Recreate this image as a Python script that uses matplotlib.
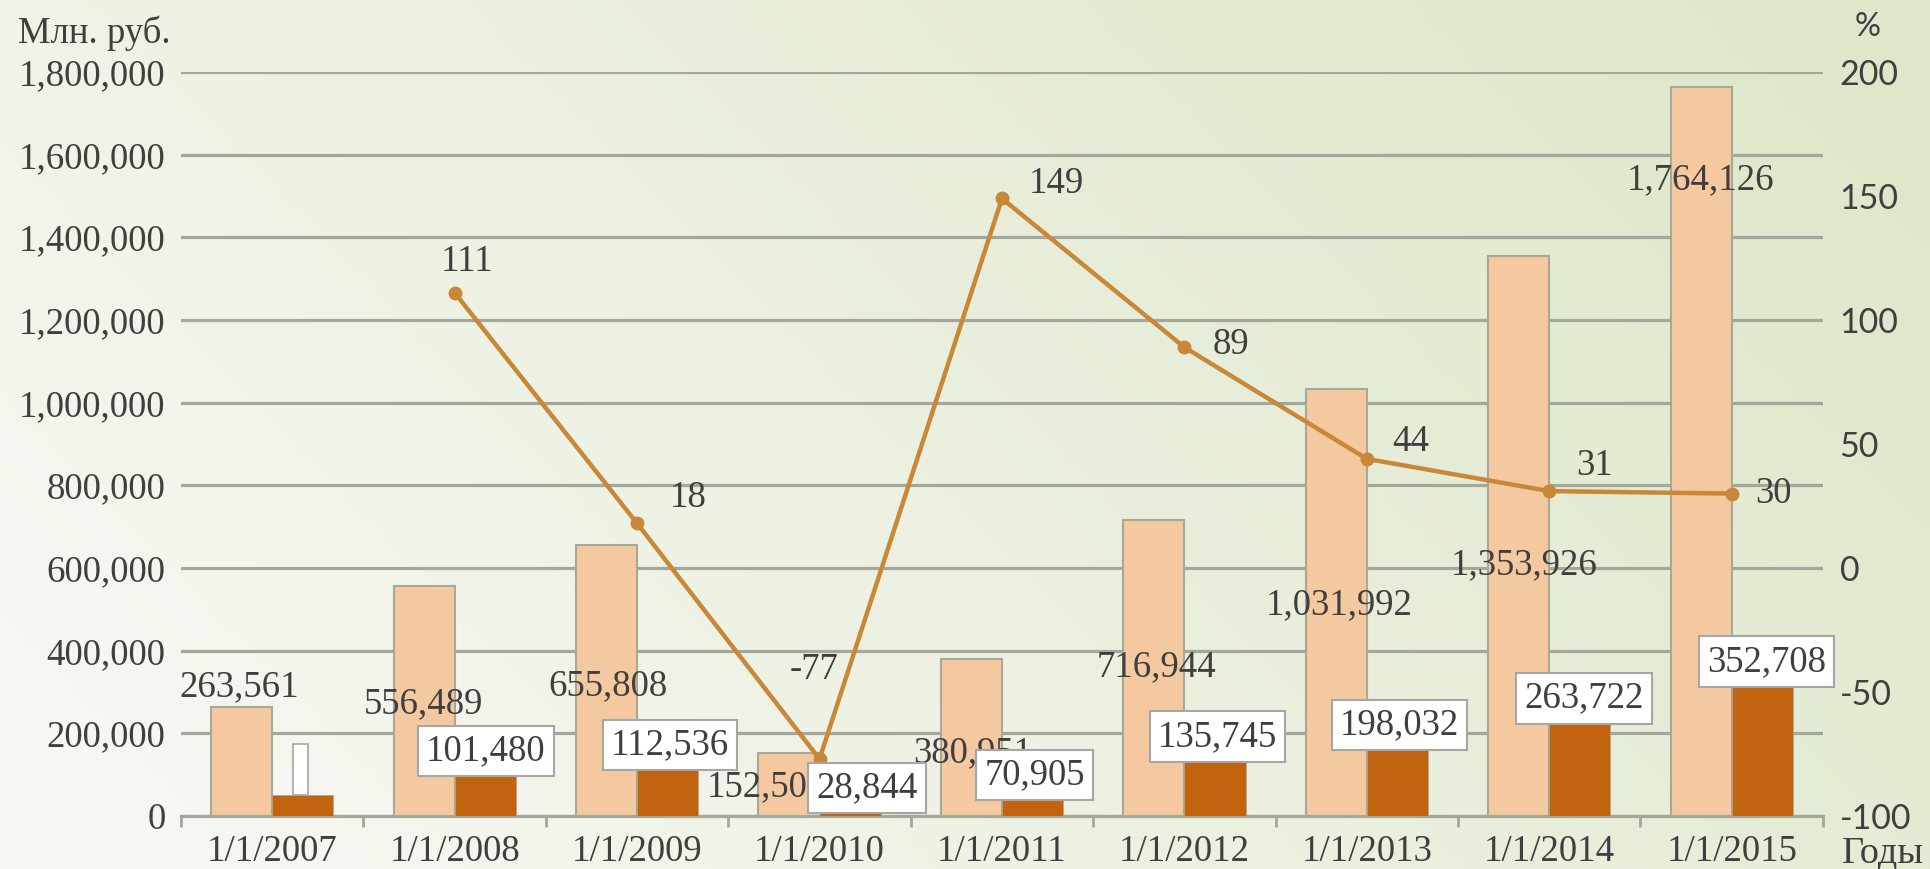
import numpy as np
import matplotlib.pyplot as plt
from matplotlib.patches import Rectangle

# данные
years = ["1/1/2007", "1/1/2008", "1/1/2009", "1/1/2010", "1/1/2011",
         "1/1/2012", "1/1/2013", "1/1/2014", "1/1/2015"]
total = [263561, 556489, 655808, 152500, 380951, 716944, 1031992, 1353926, 1764126]
increase = [50000, 101480, 112536, 28844, 70905, 135745, 198032, 263722, 352708]
growth_idx = [1, 2, 3, 4, 5, 6, 7, 8]
growth = [111, 18, -77, 149, 89, 44, 31, 30]

# положение подписей (смещение по категории, высота)
tot_dx = [-0.18, -0.17, -0.16, -0.29, -0.16, -0.155, -0.15, -0.14, -0.17]
tot_ly = [312e3, 271e3, 315e3, 70e3, 152e3, 360e3, 510e3, 607e3, 1539e3]
inc_dx = [0.155, 0.17, 0.18, 0.26, 0.18, 0.18, 0.18, 0.19, 0.19]
inc_ly = [0, 157e3, 172e3, 68e3, 99e3, 192e3, 220e3, 285e3, 373e3]
gr_dx = [0.07, 0.28, -0.03, 0.30, 0.255, 0.24, 0.25, 0.23]
gr_ly = [123.4, 28.2, -41.1, 155, 89.9, 50.8, 41.3, 29.9]

serif = "Liberation Serif"
sans = "Lato"
txt_col = "#3f3f3f"
grid_col = "#a3a79c"
fs = 26.5

fig = plt.figure(figsize=(19.31, 8.69), dpi=100)

# фон с градиентом
bg = fig.add_axes([0, 0, 1, 1], zorder=-10)
gx, gy = np.meshgrid(np.linspace(0, 1, 300), np.linspace(0, 1, 150))
t = np.clip(0.8 * gx + 0.35 * gy - 0.08, 0, 1)
c0 = np.array([0.968, 0.970, 0.950])
c1 = np.array([0.868, 0.908, 0.790])
img = c0[None, None, :] * (1 - t[..., None]) + c1[None, None, :] * t[..., None]
bg.imshow(img, aspect="auto", extent=[0, 1, 0, 1], origin="lower")
bg.axis("off")

ax = fig.add_axes([0.09373, 0.06099, 0.8503, 0.85616])
ax.patch.set_alpha(0)
x = np.arange(len(years))
w = 0.335
ax.bar(x - w / 2, total, w, color="#f5c9a0", edgecolor="#a8a898", lw=1.5, zorder=3)
ax.bar(x + w / 2, increase, w, color="#c1630f", edgecolor="#a8a898", lw=0.5, zorder=3)

ax.set_xlim(-0.5, len(years) - 0.5)
ax.set_ylim(0, 1800000)
ax.set_yticks(np.arange(0, 1800001, 200000))
ax.set_yticklabels([f"{v:,}" for v in np.arange(0, 1800001, 200000)],
                   family=serif, fontsize=fs, color=txt_col)
ax.yaxis.grid(True, color=grid_col, lw=2.3, zorder=0)
ax.set_axisbelow(True)
ax.tick_params(axis="y", length=0, pad=11)
ax.set_xticks(x)
ax.set_xticklabels(years, family=serif, fontsize=fs, color=txt_col)
ax.set_xticks(np.arange(-0.5, len(years)), minor=True)
ax.tick_params(axis="x", which="major", length=0, pad=13)
ax.tick_params(axis="x", which="minor", length=8, width=2, color=grid_col)
for s in ["top", "right", "left"]:
    ax.spines[s].set_visible(False)
ax.spines["bottom"].set_color(grid_col)
ax.spines["bottom"].set_linewidth(2.3)

ax2 = ax.twinx()
ax2.set_ylim(-100, 200)
ax2.set_yticks(np.arange(-100, 201, 50))
ax2.set_yticklabels([str(v) for v in np.arange(-100, 201, 50)],
                    family=sans, fontsize=fs - 2, color=txt_col)
ax2.tick_params(axis="y", length=0, pad=12)
for s in ax2.spines.values():
    s.set_visible(False)
ax2.plot(growth_idx, growth, color="#c98738", lw=3.2, marker="o", ms=9, zorder=4)

# подписи значений
for i, v in enumerate(total):
    ax2.text(i + tot_dx[i], tot_ly[i], f"{v:,}", transform=ax.transData,
             ha="center", va="center", family=serif, fontsize=fs, color=txt_col, zorder=5)
box = dict(boxstyle="square,pad=0.22", fc="white", ec="#a6a6a6", lw=1.5)
for i, v in enumerate(increase):
    if i == 0:
        # пустая рамка подписи
        ax2.add_patch(Rectangle((i + inc_dx[i] - 0.041, v), 0.082, 123000,
                                transform=ax.transData, fc="white", ec="#a6a6a6",
                                lw=1.2, zorder=6))
        continue
    ax2.text(i + inc_dx[i], inc_ly[i], f"{v:,}", transform=ax.transData,
             ha="center", va="center", family=serif, fontsize=fs, color=txt_col,
             bbox=box, zorder=6)
for k, (i, v) in enumerate(zip(growth_idx, growth)):
    ax2.text(i + gr_dx[k], gr_ly[k], str(v), ha="center", va="center",
             family=serif, fontsize=fs, color=txt_col, zorder=6)

fig.text(18 / 1931, 1 - 33 / 869, "Млн. руб.", family=serif, fontsize=fs,
         color=txt_col, ha="left", va="center")
fig.text(1868 / 1931, 1 - 27 / 869, "%", family=sans, fontsize=fs - 3,
         color=txt_col, ha="center", va="center")
fig.text(1842 / 1931, 1 - 853 / 869, "Годы", family=serif, fontsize=fs + 1,
         color=txt_col, ha="left", va="center")

fig.savefig("out.png", dpi=100)
